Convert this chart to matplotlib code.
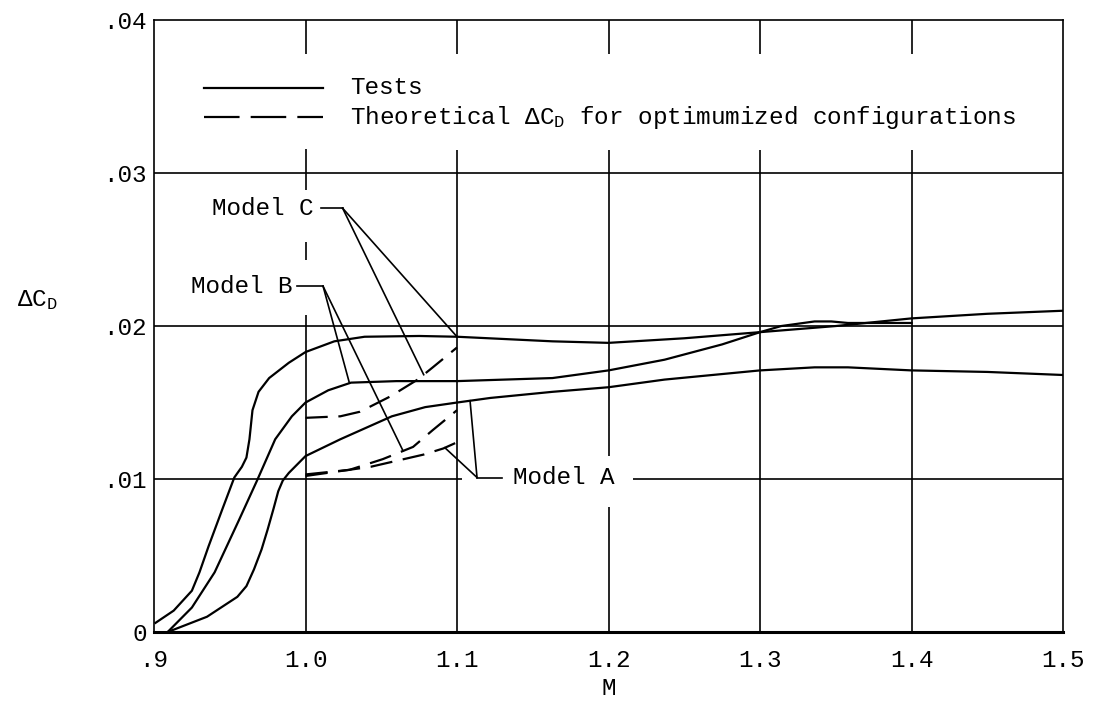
import numpy as np
import matplotlib
matplotlib.use("Agg")
import matplotlib.pyplot as plt

plt.rcParams['font.family'] = ['Liberation Mono', 'DejaVu Sans']
plt.rcParams['mathtext.default'] = 'regular'

# test curves
mach_c = [0.901, 0.913, 0.925, 0.930, 0.936, 0.945, 0.953, 0.958, 0.961, 0.963, 0.965,
          0.969, 0.976, 0.989, 1.000, 1.019, 1.039, 1.075, 1.100, 1.163, 1.200, 1.250,
          1.300, 1.350, 1.400, 1.450, 1.500]
cd_c = [0.0006, 0.0014, 0.0027, 0.0039, 0.0056, 0.0080, 0.0101, 0.0108, 0.0114, 0.0126,
        0.0145, 0.0157, 0.0166, 0.0176, 0.0183, 0.0190, 0.0193, 0.01935, 0.0193, 0.0190,
        0.0189, 0.0192, 0.0196, 0.0200, 0.0205, 0.0208, 0.0210]

mach_b = [0.909, 0.925, 0.940, 0.956, 0.968, 0.980, 0.991, 1.000, 1.015, 1.030, 1.060,
          1.100, 1.163, 1.200, 1.237, 1.275, 1.300, 1.314, 1.336, 1.347, 1.358, 1.400]
cd_b = [0.0, 0.0016, 0.0039, 0.0073, 0.0099, 0.0126, 0.0141, 0.0150, 0.0158, 0.0163,
        0.0164, 0.0164, 0.0166, 0.0171, 0.0178, 0.0188, 0.0196, 0.0200, 0.0203, 0.0203,
        0.0202, 0.0202]

mach_a = [0.909, 0.935, 0.955, 0.961, 0.966, 0.971, 0.975, 0.979, 0.982, 0.985, 0.989,
          1.000, 1.023, 1.057, 1.079, 1.100, 1.122, 1.163, 1.200, 1.237, 1.300, 1.336,
          1.358, 1.400, 1.450, 1.500]
cd_a = [0.0, 0.0010, 0.0023, 0.0030, 0.0041, 0.0054, 0.0067, 0.0081, 0.0092, 0.0099,
        0.0104, 0.0115, 0.0126, 0.0141, 0.0147, 0.0150, 0.0153, 0.0157, 0.0160, 0.0165,
        0.0171, 0.0173, 0.0173, 0.0171, 0.0170, 0.0168]

# theoretical curves
mach_c_th = [1.0, 1.023, 1.036, 1.056, 1.074, 1.084, 1.1]
cd_c_th = [0.0140, 0.0141, 0.0144, 0.0154, 0.0165, 0.0173, 0.0186]
mach_b_th = [1.0, 1.029, 1.051, 1.071, 1.084, 1.1]
cd_b_th = [0.0103, 0.0106, 0.0113, 0.0121, 0.0132, 0.0145]
mach_a_th = [1.0, 1.043, 1.078, 1.091, 1.1]
cd_a_th = [0.0102, 0.0108, 0.0116, 0.0120, 0.0124]

x_ticks = [0.9, 1.0, 1.1, 1.2, 1.3, 1.4, 1.5]
x_labels = ['.9', '1.0', '1.1', '1.2', '1.3', '1.4', '1.5']
y_ticks = [0, 0.01, 0.02, 0.03, 0.04]
y_labels = ['0', '.01', '.02', '.03', '.04']

FS = 17.5
LW = 1.6
TH_DASH = (0, (10, 4.8))

fig = plt.figure(figsize=(10.93, 7.08), dpi=100)
ax = fig.add_axes([0.1409, 0.1073, 0.8317, 0.8644])
ax.set_xlim(0.9, 1.5)
ax.set_ylim(0, 0.04)

# grid, broken where the labels sit
ax.hlines([0.02, 0.03], 0.9, 1.5, color='black', lw=1.2)
ax.hlines(0.01, 0.9, 1.103, color='black', lw=1.2)
ax.hlines(0.01, 1.216, 1.5, color='black', lw=1.2)
vsegs = {
    1.0: [(0.0378, 0.04), (0.0289, 0.0316), (0.0243, 0.0255), (0, 0.0207)],
    1.1: [(0.0378, 0.04), (0, 0.0315)],
    1.2: [(0.0378, 0.04), (0.0115, 0.0315), (0, 0.0082)],
    1.3: [(0.0378, 0.04), (0, 0.0315)],
    1.4: [(0.0378, 0.04), (0, 0.0315)],
}
for xv, segs in vsegs.items():
    for y0, y1 in segs:
        ax.vlines(xv, y0, y1, color='black', lw=1.2)

for m, cd in [(mach_c, cd_c), (mach_b, cd_b), (mach_a, cd_a)]:
    ax.plot(m, cd, color='black', lw=LW, solid_joinstyle='round')
for m, cd in [(mach_c_th, cd_c_th), (mach_b_th, cd_b_th), (mach_a_th, cd_a_th)]:
    ax.plot(m, cd, color='black', lw=LW, linestyle=TH_DASH)

# legend drawn by hand
ax.plot([0.055, 0.186], [0.889, 0.889], transform=ax.transAxes, color='black', lw=LW)
ax.plot([0.055, 0.186], [0.8415, 0.8415], transform=ax.transAxes, color='black', lw=LW,
        linestyle=(0, (16, 5)))
ax.text(0.2156, 0.889, 'Tests', transform=ax.transAxes, fontsize=FS, va='center')
ax.text(0.2156, 0.8415, 'Theoretical ΔC$_D$ for optimumized configurations',
        transform=ax.transAxes, fontsize=FS, va='center')


def leader(label, text_x, y, stub, targets, ha):
    ax.text(text_x, y, label, fontsize=FS, ha=ha, va='center')
    ax.plot(stub, [y, y], color='black', lw=1.2)
    for m, cd, tm in targets:
        ax.plot([stub[1], tm], [y, np.interp(tm, m, cd)], color='black', lw=1.2)


leader('Model C', 1.005, 0.0277, [1.0105, 1.0245],
       [(mach_c, cd_c, 1.1), (mach_c_th, cd_c_th, 1.078)], 'right')
leader('Model B', 0.9917, 0.0226, [0.9944, 1.0116],
       [(mach_b, cd_b, 1.029), (mach_b_th, cd_b_th, 1.0644)], 'right')
leader('Model A', 1.137, 0.0101, [1.1297, 1.1132],
       [(mach_a, cd_a, 1.1086), (mach_a_th, cd_a_th, 1.092)], 'left')

ax.set_xticks(x_ticks)
ax.set_xticklabels(x_labels, fontsize=FS)
ax.set_yticks(y_ticks)
ax.set_yticklabels(y_labels, fontsize=FS)
ax.tick_params(axis='x', length=0, pad=12)
ax.tick_params(axis='y', length=0, pad=5)
ax.set_xlabel('M', fontsize=FS, labelpad=4)
ax.set_ylabel('ΔC$_D$', fontsize=FS, rotation=0, va='center')
ax.yaxis.set_label_coords(-0.128, 0.542)

for side in ['top', 'left', 'right']:
    ax.spines[side].set_linewidth(1.2)
ax.spines['bottom'].set_linewidth(2.2)

fig.savefig('out.png', dpi=100)
